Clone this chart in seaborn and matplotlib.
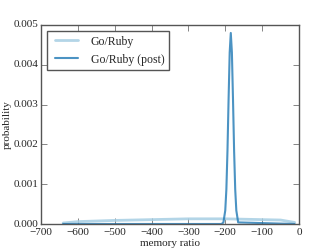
import numpy as np
import pandas as pd
import matplotlib
matplotlib.use("Agg")
import matplotlib.pyplot as plt
import seaborn as sns

# curve points
prior_x = [-640, -640, -600, -500, -400, -300, -250, -200, -150, -100, -50, -12, -12]
prior_y = [0.0, 0.00005, 0.00006, 0.00009, 0.00011, 0.00013, 0.00013, 0.00013,
           0.00012, 0.00011, 0.0001, 0.00008, 0.0]

post_x = [-640, -210, -205, -200, -197, -194, -191, -188, -185, -182, -179,
          -176, -173, -170, -165, -12]
post_y = [0.0, 0.0, 0.00004, 0.00034, 0.00087, 0.00184, 0.00313, 0.00431, 0.0048,
          0.00431, 0.00313, 0.00184, 0.00087, 0.00034, 0.00004, 0.0]

plt.style.use("classic")
sns.set_style("ticks", {"xtick.direction": "in", "ytick.direction": "in"})
plt.rcParams["font.family"] = ["Liberation Serif", "DejaVu Serif"]

fig = plt.figure(figsize=(3.32, 2.49), dpi=100, facecolor="white")
ax = fig.add_axes([0.1235, 0.1004, 0.777, 0.7992])

df_prior = pd.DataFrame({"x": prior_x, "y": prior_y})
df_post = pd.DataFrame({"x": post_x, "y": post_y})
sns.lineplot(data=df_prior, x="x", y="y", ax=ax, color="#a6cee3", lw=2,
             alpha=0.85, sort=False, label="Go/Ruby")
sns.lineplot(data=df_post, x="x", y="y", ax=ax, color="#1f78b4", lw=1.5,
             alpha=0.8, sort=False, label="Go/Ruby (post)")

ax.set_xlim(-700, 0)
ax.set_ylim(0, 0.005)
ax.set_xticks(np.arange(-700, 1, 100))
ax.set_yticks([0, 0.001, 0.002, 0.003, 0.004, 0.005])
ax.set_yticklabels(["0.000", "0.001", "0.002", "0.003", "0.004", "0.005"])
ax.tick_params(direction="in", top=True, right=True, labelsize=8, length=4,
               color="#555555")
ax.tick_params(axis="x", pad=3)
ax.tick_params(axis="y", pad=2)
for s in ax.spines.values():
    s.set_color("#555555")
ax.set_xlabel("memory ratio", fontsize=8, labelpad=1)
ax.set_ylabel("probability", fontsize=8, labelpad=1)
leg = ax.legend(loc="upper left", fontsize=8.5, frameon=True, fancybox=False,
                borderaxespad=0.5, handlelength=2.5)
leg.get_frame().set_edgecolor("#555555")

fig.savefig("out.png", dpi=100, facecolor="white")
